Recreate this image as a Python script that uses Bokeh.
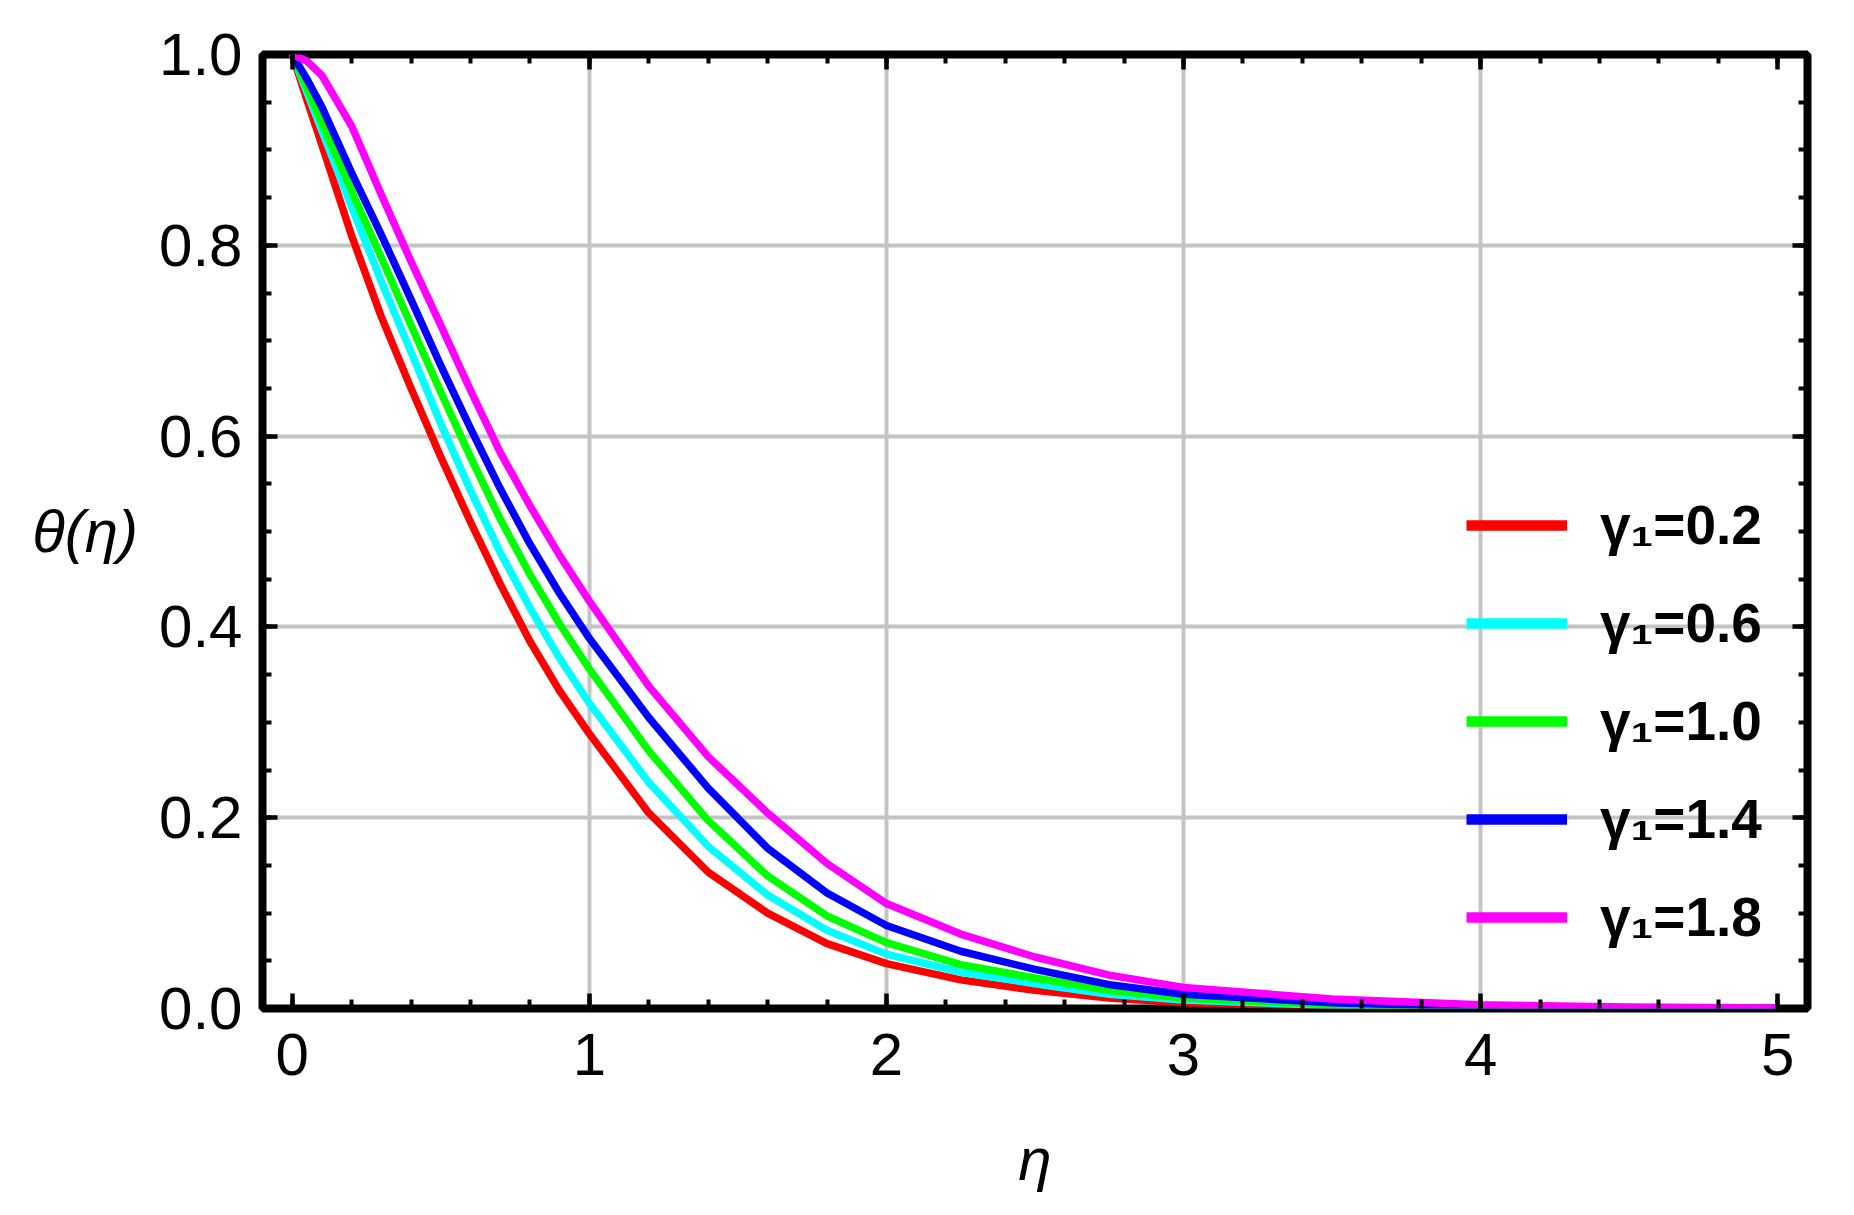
from bokeh.plotting import figure
from bokeh.models import FixedTicker, LinearAxis, Legend, LegendItem, Range1d, NumeralTickFormatter
from bokeh.embed import file_html
from bokeh.resources import INLINE

# ---- data ----
eta = [0.0, 0.05, 0.1, 0.2, 0.3, 0.4, 0.5, 0.6, 0.7, 0.8, 0.9, 1.0, 1.2, 1.4, 1.6,
       1.8, 2.0, 2.25, 2.5, 2.75, 3.0, 3.5, 4.0, 4.5, 5.0]

theta_g02 = [1.0, 0.952, 0.905, 0.81, 0.725, 0.65, 0.578, 0.51, 0.445, 0.385, 0.333,
             0.288, 0.205, 0.143, 0.100, 0.068, 0.047, 0.030, 0.019, 0.011, 0.006,
             0.002, 0.0007, 0.0002, 0.0001]
theta_g06 = [1.0, 0.96, 0.92, 0.84, 0.762, 0.688, 0.613, 0.543, 0.478, 0.42, 0.367,
             0.32, 0.237, 0.17, 0.119, 0.082, 0.057, 0.038, 0.026, 0.015, 0.009,
             0.003, 0.001, 0.0004, 0.0001]
theta_g10 = [1.0, 0.965, 0.928, 0.857, 0.787, 0.716, 0.646, 0.578, 0.513, 0.455, 0.403,
             0.356, 0.27, 0.197, 0.139, 0.097, 0.069, 0.046, 0.032, 0.019, 0.011,
             0.004, 0.0015, 0.0005, 0.0002]
theta_g14 = [1.0, 0.974, 0.945, 0.876, 0.811, 0.743, 0.674, 0.608, 0.545, 0.487, 0.435,
             0.388, 0.305, 0.231, 0.168, 0.121, 0.087, 0.060, 0.041, 0.025, 0.015,
             0.006, 0.002, 0.0008, 0.0003]
theta_g18 = [1.0, 0.993, 0.978, 0.925, 0.853, 0.783, 0.716, 0.648, 0.583, 0.527, 0.475,
             0.427, 0.338, 0.264, 0.205, 0.152, 0.11, 0.078, 0.054, 0.035, 0.022,
             0.010, 0.004, 0.0015, 0.0006]

series = [theta_g02, theta_g06, theta_g10, theta_g14, theta_g18]
labels = ["γ₁=0.2", "γ₁=0.6", "γ₁=1.0", "γ₁=1.4", "γ₁=1.8"]
colors = ["#ff0000", "#00ffff", "#00ff00", "#0000ff", "#ff00ff"]

x_major = [0, 1, 2, 3, 4, 5]
x_minor = [round(0.2 * i, 2) for i in range(0, 26)]
y_major = [0.0, 0.2, 0.4, 0.6, 0.8, 1.0]
y_minor = [round(0.05 * i, 2) for i in range(0, 21)]
x_grid = [1, 2, 3, 4]
y_grid = [0.2, 0.4, 0.6, 0.8]

FONT = "Liberation Sans"

p = figure(width=1830, height=1195,
           x_range=Range1d(-0.1, 5.1), y_range=Range1d(0, 1),
           output_backend="svg", toolbar_location=None,
           min_border_left=262, min_border_right=23,
           min_border_top=54, min_border_bottom=185)

p.outline_line_color = "black"
p.outline_line_width = 8
p.background_fill_color = "white"
p.border_fill_color = "white"

bottom_ax = p.xaxis[0]
left_ax = p.yaxis[0]


def style_axis(ax, ticks, minor, show_labels):
    ax.ticker = FixedTicker(ticks=ticks, minor_ticks=minor)
    ax.axis_line_color = None
    ax.major_tick_in = 15
    ax.major_tick_out = 0
    ax.minor_tick_in = 9
    ax.minor_tick_out = 0
    ax.major_tick_line_color = "black"
    ax.minor_tick_line_color = "black"
    ax.major_tick_line_width = 4.5
    ax.minor_tick_line_width = 4
    ax.major_label_text_font = FONT
    ax.major_label_text_color = "black"
    ax.major_label_standoff = 20
    if show_labels:
        ax.major_label_text_font_size = "60px"
    else:
        ax.major_label_overrides = {t: "" for t in ticks}
        ax.major_label_text_font_size = "1px"


style_axis(bottom_ax, x_major, x_minor, True)
style_axis(left_ax, y_major, y_minor, True)
left_ax.formatter = NumeralTickFormatter(format="0.0")
bottom_ax.major_label_standoff = 25

top_ax = LinearAxis()
right_ax = LinearAxis()
style_axis(top_ax, x_major, x_minor, False)
style_axis(right_ax, y_major, y_minor, False)
p.add_layout(top_ax, "above")
p.add_layout(right_ax, "right")

bottom_ax.axis_label = "η"
left_ax.axis_label = "θ(η)"
for ax in (bottom_ax, left_ax):
    ax.axis_label_text_font = FONT
    ax.axis_label_text_font_style = "italic"
    ax.axis_label_text_font_size = "60px"
    ax.axis_label_text_color = "black"
bottom_ax.axis_label_standoff = 48
left_ax.axis_label_standoff = 18
try:
    left_ax.axis_label_orientation = "horizontal"
except Exception:
    pass

p.xgrid.ticker = FixedTicker(ticks=x_grid)
p.ygrid.ticker = FixedTicker(ticks=y_grid)
for g in (p.xgrid[0], p.ygrid[0]):
    g.grid_line_color = "#c4c4c4"
    g.grid_line_width = 4

items = []
for ys, lbl, col in zip(series, labels, colors):
    p.line(eta, ys, line_color=col, line_width=7.5, line_join="round")
    proxy = p.line(eta, ys, line_color=col, line_width=10.5, visible=False)
    items.append(LegendItem(label=lbl, renderers=[proxy]))

legend = Legend(items=items, location=(1204, 59))
legend.padding = 0
legend.margin = 0
legend.spacing = 34
legend.label_height = 62
legend.glyph_height = 62
legend.glyph_width = 101
legend.label_standoff = 33
legend.label_text_font = FONT
legend.label_text_font_size = "55px"
legend.label_text_font_style = "bold"
legend.label_text_color = "black"
legend.background_fill_alpha = 0
legend.border_line_alpha = 0
legend.click_policy = "none"
p.add_layout(legend)

open("out.html", "w").write(file_html(p, INLINE))
